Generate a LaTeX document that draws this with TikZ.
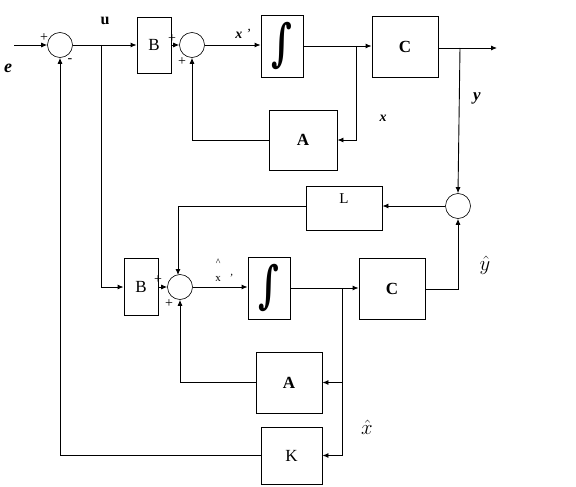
\documentclass[tikz,border=0pt]{standalone}
\usepackage{fontspec}
\setmainfont{Liberation Serif}
\newfontfamily\intfont{DejaVu Serif}
\usetikzlibrary{arrows.meta}
\begin{document}
\begin{tikzpicture}[x=1pt,y=-1pt,line width=0.9pt,
  font=\fontsize{17}{19}\selectfont,
  arr/.style={-{Latex[length=6pt,width=5pt]}},
  blk/.style={draw,rectangle,inner sep=0pt},
  sumc/.style={draw,circle,line width=0.6pt,minimum size=25pt,inner sep=0pt},
  lbl/.style={inner sep=0pt},
  pm/.style={inner sep=0pt,font=\fontsize{14}{15}\selectfont},
  integ/.style={inner sep=0pt,yscale=1.4,font=\intfont\bfseries\fontsize{36}{40}\selectfont}]
\useasboundingbox (0,0) rectangle (576,487);
% blocks
\node[sumc] (s1) at (60,45) {};
\node[sumc] (s2) at (192,45) {};
\node[sumc] (s3) at (458,206) {};
\node[sumc] (s4) at (180,287) {};
\node[blk,minimum width=34pt,minimum height=56pt] (B1) at (154,45) {B};
\node[blk,minimum width=42pt,minimum height=62pt] (I1) at (282,46) {};
\node[integ] at (282,46) {∫};
\node[blk,minimum width=66pt,minimum height=61pt] (C1) at (405,47) {\textbf{C}};
\node[blk,minimum width=68pt,minimum height=60pt] (A1) at (303,140) {\textbf{A}};
\node[blk,minimum width=76pt,minimum height=44pt] (L) at (344,208) {};
\node[lbl,font=\fontsize{15}{17}\selectfont] at (344,199) {L};
\node[blk,minimum width=34pt,minimum height=57pt] (B2) at (141,287) {B};
\node[blk,minimum width=42pt,minimum height=62pt] (I2) at (269,288) {};
\node[integ] at (269,288) {∫};
\node[blk,minimum width=66pt,minimum height=61pt] (C2) at (392,289) {\textbf{C}};
\node[blk,minimum width=66pt,minimum height=61pt] (A2) at (289,382.5) {\textbf{A}};
\node[blk,minimum width=61pt,minimum height=57pt] (K) at (291.5,455.5) {K};
% coordinates
\coordinate (ein) at (14,45);
\coordinate (u) at (101,45);
\coordinate (xb) at (356,46);
\coordinate (yout) at (497,48);
\coordinate (yb) at (460,48);
\coordinate (xhb) at (342,288);
% connectors top
\draw[arr] (ein) -- (s1.west);
\draw[arr] (s1.east) -- (B1.west);
\draw[arr] (u) |- (B2.west);
\draw[arr] (B1.east) -- (s2.west);
\draw[arr] (s2.east) -- (s2.east -| I1.west);
\draw[arr] (I1.east) -- (C1.west |- I1.east);
\draw[arr] (xb) |- (A1.east);
\draw[arr] (A1.west) -| (s2.south);
\draw[arr] (C1.east |- yout) -- (yout);
\draw[arr] (yb) -- (s3.north);
\draw[arr] (s3.west) -- (L.east |- s3.west);
\draw[arr] (L.west |- s3.west) -| (178,275);
% bottom
\draw[arr] (B2.east) -- (s4.west);
\draw[arr] (s4.east) -- (s4.east -| I2.west);
\draw[arr] (I2.east) -- (C2.west |- I2.east);
\draw[arr] (xhb) |- (A2.east);
\draw[arr] (xhb) |- (K.east);
\draw[arr] (A2.west) -| (s4.south);
\draw[arr] (K.west) -| (s1.south);
\draw[arr] (C2.east) -| (s3.south);
% labels
\node[lbl,font=\fontsize{18}{20}\selectfont] at (8,68) {\textbf{\textit{e}}};
\node[pm] at (44,38) {+};
\node[pm] at (70,61) {-};
\node[lbl,font=\fontsize{16}{18}\selectfont] at (105,21) {\textbf{u}};
\node[pm] at (172,39) {+};
\node[pm] at (182,62) {+};
\node[lbl,font=\fontsize{14}{16}\selectfont] at (243,34) {\textbf{\textit{x}} \textit{'}};
\node[lbl,font=\fontsize{14}{16}\selectfont] at (383,118) {\textbf{\textit{x}}};
\node[lbl,font=\fontsize{17}{19}\selectfont] at (477,98) {\textbf{\textit{y}}};
\node[pm] at (158,280) {+};
\node[pm] at (169,304) {+};
\node[lbl,font=\fontsize{10}{11}\selectfont] at (218,262) {\textit{\^{}}};
\node[lbl,font=\fontsize{11}{12}\selectfont] at (224,278) {x \ \ \textit{'}};
\node[lbl,font=\fontsize{22}{24}\selectfont] at (485,265) {$\hat{y}$};
\node[lbl,font=\fontsize{22}{24}\selectfont] at (367,427) {$\hat{x}$};
\end{tikzpicture}
\end{document}
